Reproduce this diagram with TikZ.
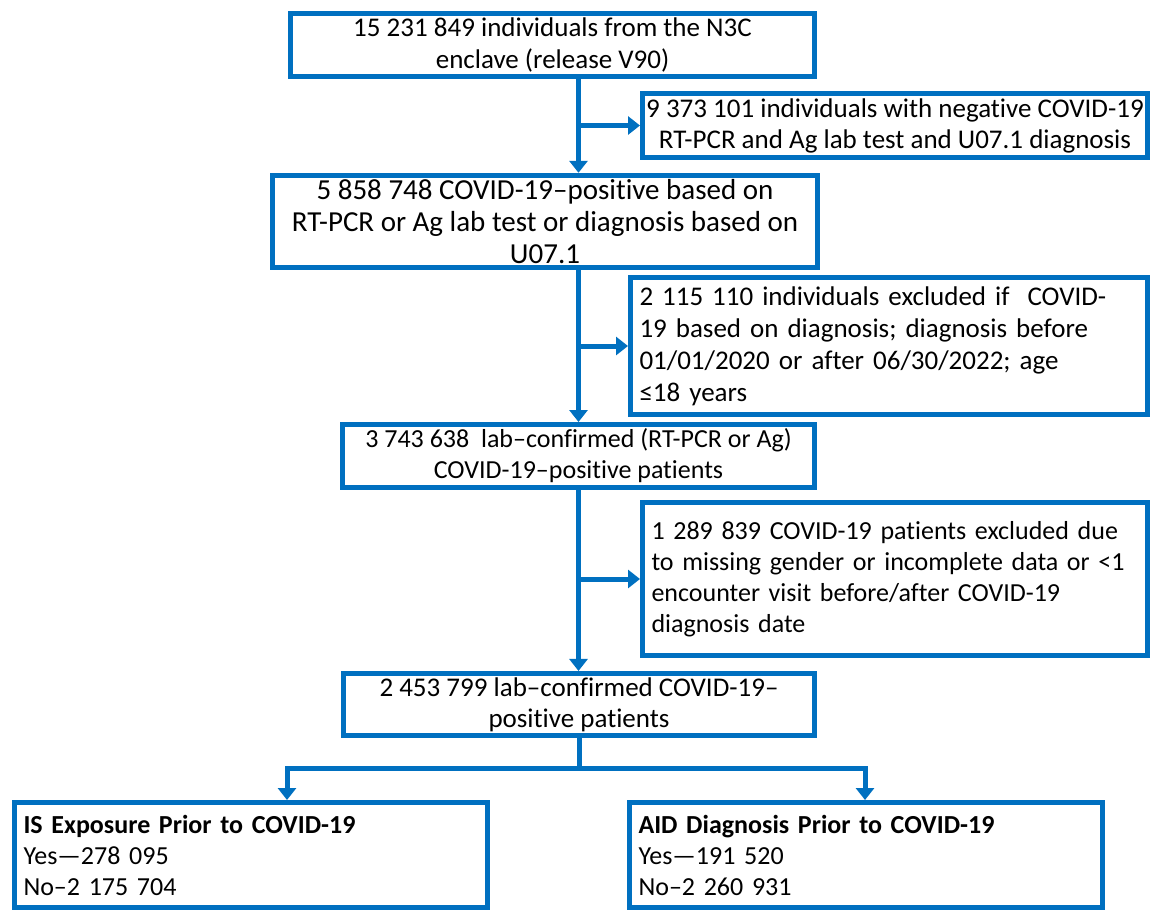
\documentclass[tikz,border=0pt]{standalone}
\usepackage{fontspec}
\setmainfont{Carlito}[Ligatures={TeX,NoCommon}]
\usepackage{tikz}
\usepackage{xcolor}
\usetikzlibrary{arrows.meta}
\definecolor{flowcolor}{RGB}{0, 112, 192}
\tikzstyle{stage} = [
    draw=flowcolor,
    line width=5pt,
    align=center,
    text=black,
    inner sep=4pt,
    font=\fontsize{26}{31}\selectfont
]
\tikzstyle{exclusion} = [stage, align=left, inner sep=9pt]
\tikzstyle{outcome} = [stage, align=left, inner sep=9pt]
\tikzstyle{flow} = [-{Triangle[length=12pt, width=18pt]}, line width=5pt, flowcolor]
\tikzstyle{link} = [line width=5pt, flowcolor]

\begin{document}
\begin{tikzpicture}[x=1pt, y=-1pt]
	\useasboundingbox (0, 0) rectangle (1150, 910);

	%
	% Main column

	% Boxes
	\node[stage, font=\fontsize{27}{32}\selectfont, minimum width=524pt, minimum height=63pt] (n3c) at (552.5, 45) {15 231 849 individuals from the N3C\\enclave (release V90)};
	\node[stage, font=\fontsize{29}{32}\selectfont, minimum width=545pt, minimum height=92pt] (pos) at (545, 221.5) {5 858 748 COVID-19--positive based on\\RT-PCR or Ag lab test or diagnosis based on\\U07.1};
	\node[stage, minimum width=472pt, minimum height=63pt] (lab) at (578.5, 456) {3 743 638\ \ lab--confirmed (RT-PCR or Ag)\\COVID-19--positive patients};
	\node[stage, font=\fontsize{27}{31}\selectfont, minimum width=471pt, minimum height=62pt] (final) at (579, 704.5) {2 453 799 lab--confirmed COVID-19--\\positive patients};

	% Arrows
	\draw[flow] (n3c.south -| lab.north) -- (pos.north -| lab.north);
	\draw[flow] (pos.south -| lab.north) -- (lab.north);
	\draw[flow] (lab.south) -- (final.north -| lab.south);

	%
	% Exclusions

	% Boxes
	\node[stage, font=\fontsize{27}{31}\selectfont, inner sep=1pt, minimum width=505pt, minimum height=64pt] (neg) at (895, 125.5) {9 373 101 individuals with negative COVID-19\\ RT-PCR and Ag lab test and U07.1 diagnosis};
	\node[exclusion, font=\fontsize{27}{32}\selectfont, text width=499pt, minimum height=123pt] (excl-1) at (889, 346) {2 115 110 individuals excluded if\ \ COVID-\\19 based on diagnosis; diagnosis before\\01/01/2020 or after 06/30/2022; age\\≤18 years};
	\node[exclusion, text width=487pt, minimum height=153pt] (excl-2) at (895, 579) {1 289 839 COVID-19 patients excluded due\\to missing gender or incomplete data or <1\\encounter visit before/after COVID-19\\diagnosis date};

	% Arrows
	\draw[flow] (neg.west -| lab.north) -- (neg.west);
	\draw[flow] (excl-1.west -| lab.north) -- (excl-1.west);
	\draw[flow] (excl-2.west -| lab.north) -- (excl-2.west);

	%
	% Outcomes

	% Boxes
	\node[outcome, text width=455pt, minimum height=105pt] (is-exp) at (251, 855) {\textbf{IS Exposure Prior to COVID-19}\\Yes---278 095\\No--2 175 704};
	\node[outcome, text width=455pt, minimum height=105pt] (aid-diag) at (866, 855) {\textbf{AID Diagnosis Prior to COVID-19}\\Yes---191 520\\No--2 260 931};

	% Arrows
	\coordinate (left-drop) at (287, 768);
	\coordinate (right-drop) at (865, 768);
	\draw[link] (final.south) -- (left-drop -| final.south);
	\draw[flow] (left-drop -| final.south) -- (left-drop) -- (left-drop |- is-exp.north);
	\draw[flow] (right-drop -| final.south) -- (right-drop) -- (right-drop |- aid-diag.north);

\end{tikzpicture}
\end{document}
